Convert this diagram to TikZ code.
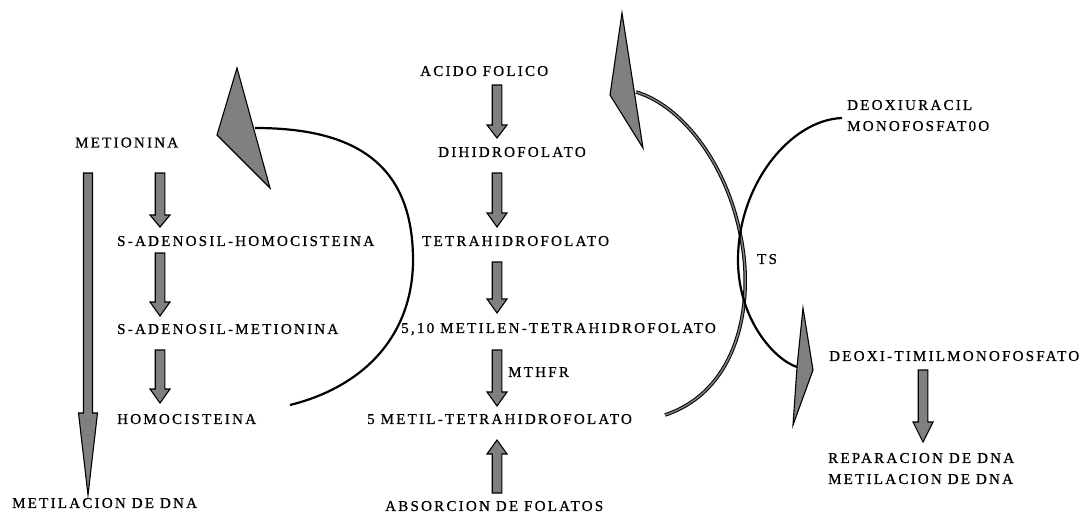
\documentclass[tikz,border=0pt]{standalone}
\usepackage{fontspec}
\newfontfamily\lblf{Liberation Serif}[LetterSpace=15,FakeBold=0.8]
\usetikzlibrary{calc}
\definecolor{agray}{RGB}{128,128,128}
\tikzset{
  lbl/.style={anchor=west, inner sep=0pt, text height=9.9pt, text depth=0pt,
    font=\lblf\fontsize{15pt}{18pt}\selectfont},
  shafthw/.code={\def\bsw{#1}},
  headhw/.code={\def\bhw{#1}},
  headlen/.code={\def\bhl{#1}},
  blk/.style={draw=black, fill=agray, line width=1.1pt, line join=miter,
    shafthw=4.8pt, headhw=10pt, headlen=14pt,
    to path={($(\tikztostart)!\bsw!90:(\tikztotarget)$)
      -- ($($(\tikztotarget)!\bhl!(\tikztostart)$)!\bsw!90:(\tikztotarget)$)
      -- ($($(\tikztotarget)!\bhl!(\tikztostart)$)!\bhw!90:(\tikztotarget)$)
      -- (\tikztotarget)
      -- ($($(\tikztotarget)!\bhl!(\tikztostart)$)!\bhw!-90:(\tikztotarget)$)
      -- ($($(\tikztotarget)!\bhl!(\tikztostart)$)!\bsw!-90:(\tikztotarget)$)
      -- ($(\tikztostart)!\bsw!-90:(\tikztotarget)$) -- cycle}},
  curve/.style={draw=black, line width=2.2pt},
  dcurve/.style={draw=black, line width=1pt, double=agray, double distance=1.5pt},
  head/.style={draw=black, fill=agray, line width=1.1pt, line join=miter}
}
\begin{document}
\begin{tikzpicture}[x=1pt,y=-1pt]
\path[use as bounding box, fill=white] (0,0) rectangle (1087,514);

% texts
\node[lbl] (met)   at (75,142.5)  {METIONINA};
\node[lbl] (sah)   at (117,241)   {S-ADENOSIL-HOMOCISTEINA};
\node[lbl] (sam)   at (117,329)   {S-ADENOSIL-METIONINA};
\node[lbl] (hom)   at (117,419)   {HOMOCISTEINA};
\node[lbl] (metdna) at (12,503)   {METILACION DE DNA};
\node[lbl] (acido) at (420,71)    {ACIDO FOLICO};
\node[lbl] (dihid) at (438,152)   {DIHIDROFOLATO};
\node[lbl] (tetra) at (422,241)   {TETRAHIDROFOLATO};
\node[lbl] (mten)  at (401,328)   {5,10 METILEN-TETRAHIDROFOLATO};
\node[lbl] (mthfr) at (508,372)   {MTHFR};
\node[lbl] (mthf)  at (367,419)   {5 METIL-TETRAHIDROFOLATO};
\node[lbl] (absor) at (385,506)   {ABSORCION DE FOLATOS};
\node[lbl] (dump1) at (847,105)   {DEOXIURACIL};
\node[lbl] (dump2) at (847,126)   {MONOFOSFAT0O};
\node[lbl] (ts)    at (757,259)   {TS};
\node[lbl] (dtmp)  at (829,356)   {DEOXI-TIMILMONOFOSFATO};
\node[lbl] (rep1)  at (828,458)   {REPARACION DE DNA};
\node[lbl] (rep2)  at (828,479)   {METILACION DE DNA};

% arrow end points
\coordinate (m1s) at (160,173); \coordinate (m1t) at (160,227);
\coordinate (m2s) at (160,253); \coordinate (m2t) at (160,316);
\coordinate (m3s) at (160,350); \coordinate (m3t) at (160,403);
\coordinate (lgs) at (88,173);  \coordinate (lgt) at (88,495);
\coordinate (c1s) at (497,85);  \coordinate (c1t) at (497,138);
\coordinate (c2s) at (497,173); \coordinate (c2t) at (497,227);
\coordinate (c3s) at (497,262); \coordinate (c3t) at (497,313);
\coordinate (c4s) at (497,350); \coordinate (c4t) at (497,406);
\coordinate (c5s) at (497,493); \coordinate (c5t) at (497,440);
\coordinate (r1s) at (923,370); \coordinate (r1t) at (923,442);

% block arrows
\draw[blk, headlen=12pt] (m1s) to (m1t);
\draw[blk] (m2s) to (m2t);
\draw[blk] (m3s) to (m3t);
\draw[blk, headlen=82pt, headhw=9.5pt, shafthw=4.5pt] (lgs) to (lgt);
\draw[blk, headlen=13pt] (c1s) to (c1t);
\draw[blk] (c2s) to (c2t);
\draw[blk] (c3s) to (c3t);
\draw[blk] (c4s) to (c4t);
\draw[blk] (c5s) to (c5t);
\draw[blk, headlen=20pt] (r1s) to (r1t);

% curve end points
\coordinate (lc1) at (290,405); \coordinate (lc2) at (255,128);
\coordinate (ca1) at (665,415); \coordinate (ca2) at (636,92);
\coordinate (cb1) at (842,118); \coordinate (cb2) at (797,367);

% curves
\draw[curve] (lc1) .. controls (370,385) and (413,330) .. (413,260)
  .. controls (413,160) and (350,128) .. (lc2);
\draw[dcurve] (ca1) .. controls (740,390) and (755,300) .. (740,233)
  .. controls (725,160) and (680,105) .. (ca2);
\draw[curve] (cb1) .. controls (790,120) and (738,185) .. (738,260)
  .. controls (738,320) and (775,360) .. (cb2);

% big arrowheads
\draw[head] (237,68) -- (270,188) -- (217,135) -- cycle;
\draw[head] (622,13) -- (643,148) -- (610,95) -- cycle;
\draw[head] (803,308) -- (813,370) -- (793,425) -- (797,367) -- cycle;
\end{tikzpicture}
\end{document}
